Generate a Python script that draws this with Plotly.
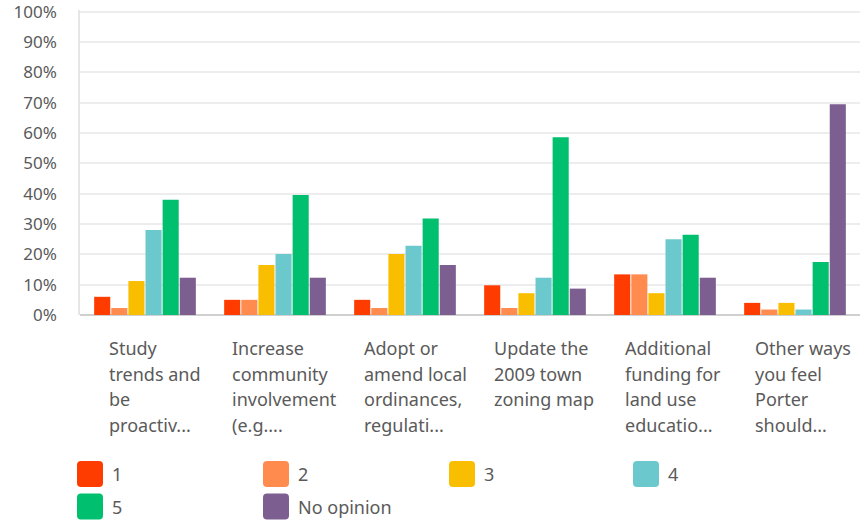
import plotly.graph_objects as go

# Survey answers: share of respondents picking each rating per item
categories = [
    "Study trends and be proactiv...",
    "Increase community involvement (e.g....",
    "Adopt or amend local ordinances, regulati...",
    "Update the 2009 town zoning map",
    "Additional funding for land use educatio...",
    "Other ways you feel Porter should...",
]
category_lines = [
    ["Study", "trends and", "be", "proactiv..."],
    ["Increase", "community", "involvement", "(e.g...."],
    ["Adopt or", "amend local", "ordinances,", "regulati..."],
    ["Update the", "2009 town", "zoning map"],
    ["Additional", "funding for", "land use", "educatio..."],
    ["Other ways", "you feel", "Porter", "should..."],
]
series_names = ["1", "2", "3", "4", "5", "No opinion"]
values_1 = [6.0, 5.0, 5.0, 9.8, 13.4, 4.0]
values_2 = [2.3, 5.0, 2.3, 2.3, 13.4, 1.8]
values_3 = [11.2, 16.5, 20.1, 7.2, 7.2, 4.0]
values_4 = [28.0, 20.1, 22.8, 12.3, 25.0, 1.8]
values_5 = [38.0, 39.6, 31.8, 58.6, 26.5, 17.5]
values_none = [12.3, 12.3, 16.5, 8.7, 12.3, 69.5]
series_values = [values_1, values_2, values_3, values_4, values_5, values_none]
series_colors = ["#FF3C00", "#FF8B4F", "#F9BE00", "#6BC8CD", "#00BF6F", "#7D5E90"]
y_ticks = [0, 10, 20, 30, 40, 50, 60, 70, 80, 90, 100]
y_tick_text = [f"{t}%" for t in y_ticks]

W, H = 861, 523
Y_MAX = 100.6
M_L, M_R, M_B = 80, 1, 208
M_T = 10
FONT = "Noto Sans"
TEXT_COLOR = "#5a5a5a"
LABEL_SHIFT = [-38, -45, -43, -43, -42, -42]

fig = go.Figure()
for name, vals, color in zip(series_names, series_values, series_colors):
    fig.add_trace(go.Bar(
        x=categories, y=vals, name=name,
        marker=dict(color=color, line=dict(width=0)),
        showlegend=False,
    ))

# Pixel -> paper helpers for elements placed outside the plot area
plot_w = W - M_L - M_R
plot_h = H - M_T - M_B


def px_x(px):
    return (px - M_L) / plot_w


def px_y(py):
    return (H - M_B - py) / plot_h


annotations = []
# Category labels, left aligned, one annotation per line
for cat, lines, shift in zip(categories, category_lines, LABEL_SHIFT):
    for i, line in enumerate(lines):
        annotations.append(dict(
            x=cat, xref="x", y=px_y(348 + i * 25.7), yref="paper",
            text=line, showarrow=False, xanchor="left", yanchor="middle",
            xshift=shift, align="left",
            font=dict(family=FONT, size=18, color=TEXT_COLOR),
        ))

shapes = []
# Legend: rounded swatches with labels, four columns
col_x = [77, 263, 449, 633]
row_y = [474, 506.5]
size = 26
r = 4
for idx, (name, color) in enumerate(zip(series_names, series_colors)):
    cx = col_x[idx % 4]
    cy = row_y[idx // 4]
    x0, x1 = cx, cx + size
    y0, y1 = cy - size / 2, cy + size / 2
    pts = [
        f"M {px_x(x0 + r)},{px_y(y0)}",
        f"L {px_x(x1 - r)},{px_y(y0)}",
        f"Q {px_x(x1)},{px_y(y0)} {px_x(x1)},{px_y(y0 + r)}",
        f"L {px_x(x1)},{px_y(y1 - r)}",
        f"Q {px_x(x1)},{px_y(y1)} {px_x(x1 - r)},{px_y(y1)}",
        f"L {px_x(x0 + r)},{px_y(y1)}",
        f"Q {px_x(x0)},{px_y(y1)} {px_x(x0)},{px_y(y1 - r)}",
        f"L {px_x(x0)},{px_y(y0 + r)}",
        f"Q {px_x(x0)},{px_y(y0)} {px_x(x0 + r)},{px_y(y0)} Z",
    ]
    shapes.append(dict(type="path", xref="paper", yref="paper", path=" ".join(pts),
                       fillcolor=color, line=dict(width=0)))
    annotations.append(dict(
        x=px_x(x1 + 7), xref="paper", y=px_y(cy), yref="paper",
        text=name, showarrow=False, xanchor="left", yanchor="middle",
        font=dict(family=FONT, size=18, color=TEXT_COLOR),
    ))

fig.update_layout(
    width=W, height=H,
    margin=dict(l=M_L, r=M_R, t=M_T, b=M_B, pad=0),
    paper_bgcolor="white", plot_bgcolor="white",
    barmode="group", bargap=0.21, bargroupgap=0.06,
    annotations=annotations, shapes=shapes,
    showlegend=False,
    font=dict(family=FONT, color=TEXT_COLOR),
)
fig.update_xaxes(
    showticklabels=False, showgrid=False, zeroline=False,
    showline=False, ticks="",
)
fig.update_yaxes(
    range=[0, Y_MAX], tickvals=y_ticks, ticktext=y_tick_text,
    showgrid=True, gridcolor="#ededed", gridwidth=1.5,
    zeroline=True, zerolinecolor="#d0d0d0", zerolinewidth=1.5,
    showline=True, linecolor="#e6e6e6", linewidth=1.5,
    ticks="", ticklabelstandoff=18, ticklabeloverflow="allow",
    tickfont=dict(family=FONT, size=17, color=TEXT_COLOR),
)

fig.write_html("out.html")
